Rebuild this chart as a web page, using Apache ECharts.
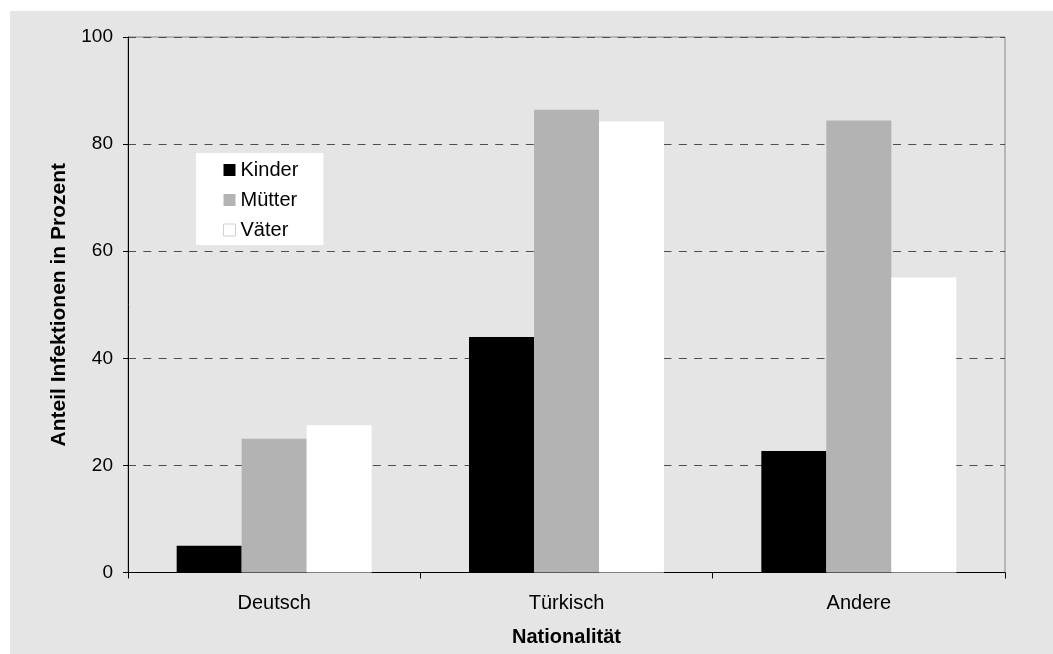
<!DOCTYPE html>
<html>
<head>
<meta charset="utf-8">
<script src="https://cdn.jsdelivr.net/npm/echarts@6/dist/echarts.min.js"></script>
<style>
  html, body { margin: 0; padding: 0; background: #ffffff; }
  #chart { width: 1053px; height: 654px; }
</style>
</head>
<body>
<div id="chart"></div>
<script>
// Infection shares by nationality (percent)
const categories = ['Deutsch', 'Türkisch', 'Andere'];
const kinder = [5, 44, 22.7];
const muetter = [25, 86.4, 84.4];
const vaeter = [27.5, 84.2, 55.1];
const yTicks = [0, 20, 40, 60, 80, 100];

const FONT = '"Liberation Sans", Arial, sans-serif';

const chart = echarts.init(document.getElementById('chart'), null, { renderer: 'canvas' });

chart.setOption({
  backgroundColor: '#ffffff',
  animation: false,
  graphic: [{
    type: 'rect',
    z: -10,
    silent: true,
    shape: { x: 10, y: 11, width: 1043, height: 643 },
    style: { fill: '#e5e5e5' }
  }],
  grid: {
    left: 128, right: 48, top: 37, bottom: 81.5,
    show: true,
    backgroundColor: 'transparent',
    borderColor: '#888888',
    borderWidth: 1
  },
  legend: {
    orient: 'vertical',
    left: 196,
    top: 153,
    padding: [7, 25, 5, 27],
    backgroundColor: '#ffffff',
    itemWidth: 12,
    itemHeight: 12,
    itemGap: 10,
    icon: 'rect',
    textStyle: { fontFamily: FONT, fontSize: 20, color: '#000000', lineHeight: 20 },
    data: [
      { name: 'Kinder' },
      { name: 'Mütter' },
      { name: 'Väter', itemStyle: { borderColor: '#d0d0d0', borderWidth: 1 } }
    ]
  },
  xAxis: {
    type: 'category',
    data: categories,
    name: 'Nationalität',
    nameLocation: 'middle',
    nameGap: 55,
    nameTextStyle: { fontFamily: FONT, fontSize: 20, fontWeight: 'bold', color: '#000000' },
    axisLine: { lineStyle: { color: '#000000', width: 1 } },
    axisTick: { show: true, length: 6, lineStyle: { color: '#000000' } },
    axisLabel: { fontFamily: FONT, fontSize: 20, color: '#000000', margin: 21 }
  },
  yAxis: {
    type: 'value',
    min: yTicks[0],
    max: yTicks[yTicks.length - 1],
    interval: 20,
    name: 'Anteil Infektionen in Prozent',
    nameLocation: 'middle',
    nameGap: 58,
    nameTextStyle: { fontFamily: FONT, fontSize: 21, fontWeight: 'bold', color: '#000000' },
    axisLine: { show: true, lineStyle: { color: '#000000', width: 1 } },
    axisTick: { show: true, length: 5, lineStyle: { color: '#000000' } },
    axisLabel: { fontFamily: FONT, fontSize: 19, color: '#000000', margin: 15 },
    splitLine: { show: true, lineStyle: { color: '#4d4d4d', type: [8, 7.3], width: 1 } }
  },
  series: [
    { name: 'Kinder', type: 'bar', data: kinder, barGap: '0%', barCategoryGap: '33.3%',
      itemStyle: { color: '#000000' } },
    { name: 'Mütter', type: 'bar', data: muetter, barGap: '0%', barCategoryGap: '33.3%',
      itemStyle: { color: '#b3b3b3' } },
    { name: 'Väter', type: 'bar', data: vaeter, barGap: '0%', barCategoryGap: '33.3%',
      itemStyle: { color: '#ffffff' } }
  ]
});
</script>
</body>
</html>
